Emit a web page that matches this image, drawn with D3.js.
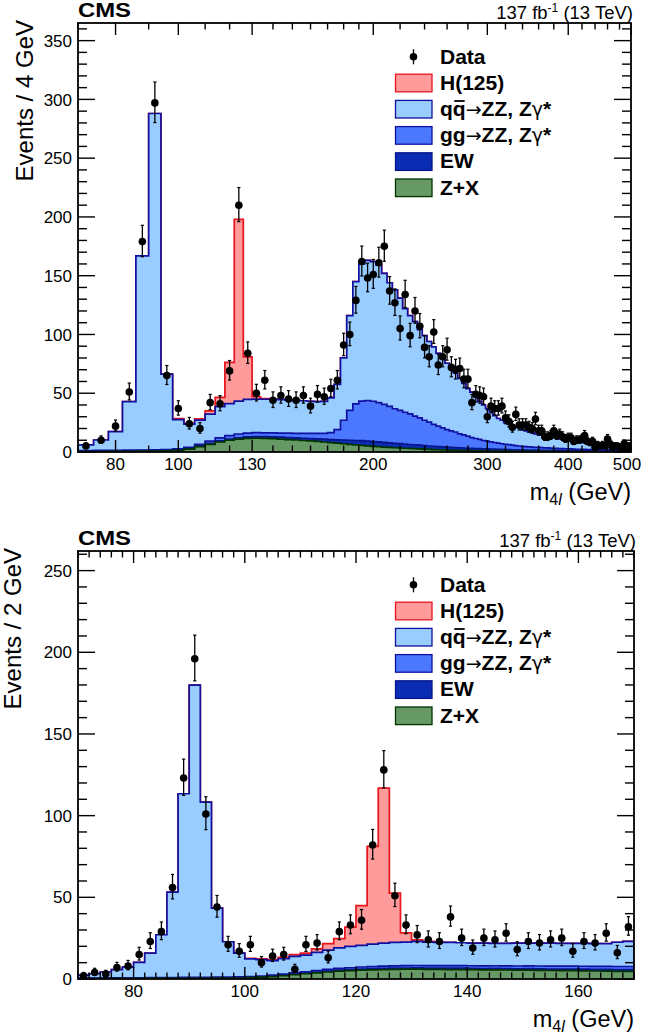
<!DOCTYPE html>
<html><head><meta charset="utf-8">
<script src="https://cdn.jsdelivr.net/npm/d3@7"></script>
<style>
body{margin:0;background:#fff}
text{font-family:"Liberation Sans",Arial,Helvetica,sans-serif}
</style></head>
<body><svg id="c" width="646" height="1035"></svg>
<script>
// ---------------- DATA ----------------
// Top panel: 4 GeV bins starting at 70 GeV (log x axis 70-500)
const topLowEdge = 70, topBinWidth = 4;
const topData = [5,10,22,51,179,297,65,37,24,20,
 42,41,69,210,84,50,61,44,48,45,
 44,48,39,49,47,54,61,91,100,129,
 162,148,151,161,175,137,127,105,134,99,
 120,107,89,81,102,74,81,87,72,70,
 71,62,62,42,49,48,47,30,39,37,
 37,39,29,26,21,32,23,23,23,21,
 20,28,18,18,13,13,14,18,14,15,
 13,11,12,12,9,10,10,11,14,9,
 8,9,4,6,5,6,5,11,7,4,
 5,5,4,3,7,3,5,2];
const topZX = [.3,.4,.5,.6,.7,.8,1.0,1.3,2.5,4.5,6.5,8.5,10,11,11.6,11.8,
 11.6,11.3,11,10.6,10.2,9.8,9.4,9,8.5,8,7.5,7,6.5,6,5.6,
 5.2,4.8,4.5,4.2,3.9,3.6,3.4,3.2,3,2.8,2.6,2.4,2.2,2,1.9,
 1.8,1.7,1.6,1.5,1.4,1.3,1.2,1.1,1,1,.9,.9,.8,.8,.8,
 .7,.7,.7,.6,.6,.6,.6,.5,.5,.5,
 .5,.5,.5,.45,.45,.45,.4,.4,.4,.4,.35,.35,.35,.35,.3,.3,.3,.3,.3,.25,.25,.25,.25,.25,.2,.2,.2,.2,.2,.2,.15,.15,.15,.15,.15,.15,.15];
const topEW = [.3,.3,.3,.4,.4,.5,.5,.5,
 .6,.7,.8,.9,1.0,1.1,1.2,1.3,
 1.4,1.5,1.6,1.7,1.8,1.9,2.0,2.2,2.4,2.6,
 2.9,3.2,3.5,3.8,4.0,4.1,4.1,4.1,4.0,3.9,
 3.8,3.7,3.6,3.4,3.3,3.2,3.0,2.9,2.8,2.7,
 2.6,2.5,2.4,2.3,2.2,2.1,2.0,1.9,1.8,1.8,
 1.7,1.7,1.6,1.6,1.5,1.5,1.4,1.4,1.3,1.3,1.3,1.2,1.2,1.2,1.1,
 1.1,1.1,1.0,1.0,1.0,1.0,.95,.95,.9,.9,.9,.85,.85,.85,.8,.8,.8,.8,.75,.75,.75,.7,.7,.7,.7,.65,.65,.65,.65,.6,.6,.6,.6,.6,.55,.55,.55];
const topGG = [.6,.6,.6,.6,.6,.6,.6,.8,.9,1.3,2.0,2.6,3.0,3.2,3.3,3.4,
 3.3,3.4,3.5,3.7,3.9,4.1,4.4,4.6,5.0,
 5.9,8.6,16.8,25.5,31.2,33.7,34.5,34.3,33.4,32.3,31,29.4,28.4,27,26.1,24.4,23.2,21.6,20.4,18.7,17.4,
 16.1,14.8,14,13.2,11.9,11.1,10.3,9.3,8.7,8,7.2,6.6,6.2,5.7,5.2,
 4.8,4.5,4.1,3.9,3.5,3.2,3.0,2.8,2.6,2.5,
 2.4,2.3,2.2,2.1,2.0,1.9,1.8,1.7,1.6,1.55,1.5,1.45,1.4,1.3,1.25,1.2,1.15,1.1,1.05,1.0,.95,.9,.9,.85,.8,.8,.75,.7,.7,.65,.6,.6,.55,.55,.5,.5,.45];
const topQQ = [4.8,8.9,15.9,41.2,165.2,286.1,64.2,24.9,19.7,20.6,23,26.5,27.2,28,28.7,28.5,
 28.6,28.7,28.5,28.3,28.1,27.8,27.4,27.1,27.1,29.5,38.5,53,80.5,104,116.7,
 119.2,118.8,117,111.5,105.2,101.2,95.5,88.2,83.5,80.5,75,72,68.5,66,62,
 58.5,56.5,53,50,47.1,43.9,40.5,38.7,35.5,32.2,30.2,27.8,25.7,22.9,21,
 20,18.4,17.8,16.7,16.1,15.4,14.2,13.5,12.9,12.2,
 11.5,11.1,10.6,10.2,9.8,9.4,9.1,8.6,8.2,7.9,7.6,7.2,6.8,6.5,6.4,6.1,5.9,5.6,5.4,5.2,5.1,4.9,4.7,4.5,4.4,4.3,4.1,4,3.8,3.8,3.7,3.6,3.4,3.3,3.3,3.1,3.1];
const topH = [0,0,0,0,0,0,0,1.0,0.7,1.2,2.7,8,35,154.7,36.2,2,0.6,0.3,0.2,0.1,0.1,
 0,0,0,0,0,0,0,0,0,0,0,0,0,0,0,0,0,0,0,0,0,0,0,0,0,0,0,0,0,0,0,0,0,0,0,0,0,0,0,0,
 0,0,0,0,0,0,0,0,0,0,0,0,0,0,0,0,0,0,0,0,0,0,0,0,0,0,0,0,0,0,0,0,0,0,0,0,0,0,0,0,0,0,0,0,0,0,0];
const topXLabels = [80,100,130,200,300,400,500];
const topYMax = 365;

// Bottom panel: 2 GeV bins from 70 to 170 GeV
const botLowEdge = 70, botBinWidth = 2;
const botData = [2,4,3,7,8,15,23,29,56,123,
 196,101,44,21,17,21,10,14,15,6,
 21,22,13,29,33,36,82,128,51,33,
 27,24,23,38,25,19,25,24,28,18,
 23,22,24,25,17,23,22,28,16,32];
const botZX = [.2,.2,.25,.25,.3,.3,.35,.35,.4,.4,.45,.45,.5,.5,.6,.8,
 1.1,1.5,2.0,2.6,3.2,3.8,4.3,4.8,5.1,5.4,5.6,5.8,5.9,6.0,6.0,
 5.9,5.9,5.8,5.8,5.7,5.6,5.6,5.5,5.4,5.4,5.3,5.2,5.1,5.1,5.0,4.9,4.8,4.7,4.7];
const botEW = [.15,.15,.15,.15,.15,.15,.15,.15,.15,.15,.2,.2,.2,.2,.2,.2,
 .25,.3,.35,.4,.45,.5,.55,.6,.6,.65,
 .65,.7,.7,.7,.75,.75,.75,.8,.8,.8,
 .8,.85,.85,.85,.9,.9,.9,.95,.95,1.0,
 1.0,1.05,1.05,1.05];
const botGG = [.25,.25,.25,.3,.3,.3,.35,.35,.35,.4,.4,.4,.4,.4,.45,.45,
 .5,.55,.6,.7,.8,.9,1.0,1.1,1.2,1.3,
 1.35,1.4,1.45,1.5,1.5,1.55,1.55,1.6,1.6,1.6,
 1.65,1.65,1.7,1.7,1.7,1.75,1.75,1.8,1.8,1.8,
 1.85,1.85,1.9,1.9];
const botQQ = [1.8,2.6,3.65,5.0,6.55,9.45,15.05,26.25,52.3,112.45,
 178.85,107.25,42.3,21.7,14.65,10.85,10.05,8.85,9.45,10.2,
 10.15,11.1,11.85,12.5,13.1,13.25,13.8,14.1,14.35,14.4,
 14.75,14.4,14.2,14.2,14.0,13.9,13.85,13.7,13.75,13.95,
 14.0,14.05,14.05,13.95,13.95,14.0,13.95,13.9,14.85,15.35];
const botH = [0,0,0,0,0,0,0,0,0,0,0,0,0,0,0,0.3,
 0.5,0.6,0.8,1.0,1.3,2.1,3.9,5.7,11.8,24.3,59.8,94.9,30.2,5.6,1.0,0.4,0.2,
 0,0,0,0,0,0,0,0,0,0,0,0,0,0,0,0,0];
const botXLabels = [80,100,120,140,160];
const botYMax = 262;

const legendLabels = ["Data","H(125)","qq→ZZ, Zγ*","gg→ZZ, Zγ*","EW","Z+X"];
const keys = ["zx","ew","gg","qq","h"];
const style = {
  h:  {fill:"#ff9b9b", line:"#e8141e"},
  qq: {fill:"#99ccff", line:"#1010a0"},
  gg: {fill:"#4b78ff", line:"#1010a0"},
  ew: {fill:"#0a2db4", line:"#08148c"},
  zx: {fill:"#669966", line:"#003300"}
};

const svg = d3.select("#c");

function drawPanel(cfg){
  const {top, bottom, left, right} = cfg;
  const x = cfg.x, y = d3.scaleLinear().domain([0, cfg.yMax]).range([bottom, top]);
  const g = svg.append("g");
  const clipId = "clip" + cfg.id;
  svg.append("clipPath").attr("id", clipId).append("rect")
    .attr("x", left).attr("y", top).attr("width", right-left).attr("height", bottom-top);

  const n = cfg.data.length;
  const rows = d3.range(n).map(i => ({
    x0: cfg.low + i*cfg.w, x1: cfg.low + (i+1)*cfg.w,
    zx: cfg.zx[i], ew: cfg.ew[i], gg: cfg.gg[i], qq: cfg.qq[i], h: cfg.h[i]
  }));
  const stack = d3.stack().keys(keys)(rows);
  const plot = g.append("g").attr("clip-path", `url(#${clipId})`);

  const area = d3.area().curve(d3.curveStepAfter)
      .x(p => x(p.x)).y0(y(0)).y1(p => y(p.t));
  const line = d3.line().curve(d3.curveStepAfter)
      .x(p => x(p.x)).y(p => y(p.t));
  for (let k = keys.length-1; k >= 0; k--) {
    const s = stack[k];
    const pts = s.map((d,i) => ({x: rows[i].x0, t: d[1]}));
    pts.push({x: rows[n-1].x1, t: s[n-1][1]});
    const outline = [{x: rows[0].x0, t: 0}].concat(pts, [{x: rows[n-1].x1, t: 0}]);
    plot.append("path").attr("d", area(pts)).attr("fill", style[keys[k]].fill);
    plot.append("path").attr("d", line(outline)).attr("fill", "none")
      .attr("stroke", style[keys[k]].line).attr("stroke-width", 1.7);
  }

  const dg = plot.append("g");
  cfg.data.forEach((v,i) => {
    if (v <= 0) return;
    const cx = x((rows[i].x0 + rows[i].x1)/2);
    const r = Math.sqrt(v + 0.25);
    const yUp = y(v + r + 0.5), yLo = y(v - r + 0.5);
    dg.append("line").attr("x1", cx).attr("x2", cx).attr("y1", yUp).attr("y2", yLo)
      .attr("stroke", "#000").attr("stroke-width", 1.3);
    [yUp, yLo].forEach(yy => dg.append("line").attr("x1", cx-1.6).attr("x2", cx+1.6)
      .attr("y1", yy).attr("y2", yy).attr("stroke", "#000").attr("stroke-width", 1.2));
    dg.append("circle").attr("cx", cx).attr("cy", y(v)).attr("r", 3.8).attr("fill", "#000");
  });

  g.append("rect").attr("x", left).attr("y", top).attr("width", right-left).attr("height", bottom-top)
    .attr("fill", "none").attr("stroke", "#000").attr("stroke-width", 1.8);

  const yt = g.append("g");
  d3.range(0, cfg.yMax + 0.01, 10).forEach(v => {
    const major = v % 50 === 0;
    const L = major ? 17 : 9;
    yt.append("line").attr("x1", left).attr("x2", left+L).attr("y1", y(v)).attr("y2", y(v))
      .attr("stroke", "#000").attr("stroke-width", 1.4);
    yt.append("line").attr("x1", right).attr("x2", right-L).attr("y1", y(v)).attr("y2", y(v))
      .attr("stroke", "#000").attr("stroke-width", 1.4);
    if (major) yt.append("text").attr("x", left-6).attr("y", y(v)).attr("dy", "0.36em")
      .attr("text-anchor", "end").attr("font-size", 17).text(v);
  });

  const xt = g.append("g");
  cfg.xTicks.forEach(t => {
    const L = t.major ? 12 : 6.5;
    const px = x(t.v);
    xt.append("line").attr("x1", px).attr("x2", px).attr("y1", bottom).attr("y2", bottom-L)
      .attr("stroke", "#000").attr("stroke-width", 1.4);
    xt.append("line").attr("x1", px).attr("x2", px).attr("y1", top).attr("y2", top+L)
      .attr("stroke", "#000").attr("stroke-width", 1.4);
  });
  cfg.xLabels.forEach(v => {
    xt.append("text").attr("x", x(v) - (v === 500 ? 4 : 0)).attr("y", bottom + 17.5)
      .attr("text-anchor", "middle").attr("font-size", 17).text(v);
  });

  g.append("text").attr("x", left).attr("y", top - 6).attr("font-size", 20)
    .attr("font-weight", "bold").attr("textLength", 53).attr("lengthAdjust", "spacingAndGlyphs").text("CMS");
  const lumi = g.append("text").attr("x", right+2).attr("y", top - 4).attr("text-anchor", "end")
    .attr("font-size", 18.5);
  lumi.append("tspan").text("137 fb");
  lumi.append("tspan").attr("dy", -7).attr("font-size", 12).text("-1");
  lumi.append("tspan").attr("dy", 7).text(" (13 TeV)");

  g.append("text").attr("transform", `translate(${cfg.yTitleX},${top-3}) rotate(-90)`)
    .attr("text-anchor", "end").attr("font-size", 24).text(cfg.yTitle);

  const xtitle = g.append("text").attr("x", right).attr("y", bottom + 48)
    .attr("text-anchor", "end").attr("font-size", 23.5);
  xtitle.append("tspan").text("m");
  xtitle.append("tspan").attr("dy", 5).attr("font-size", 16).text("4");
  xtitle.append("tspan").attr("font-size", 16).attr("font-style", "italic").text("l");
  xtitle.append("tspan").attr("dy", -5).text(" (GeV)");

  const lg = g.append("g");
  const lx = 395.5, row0 = top + 33.8, dy = 26.2;
  lg.append("line").attr("x1", 413.5).attr("x2", 413.5).attr("y1", row0-7.5).attr("y2", row0+7.5)
    .attr("stroke", "#000").attr("stroke-width", 1.3);
  lg.append("circle").attr("cx", 413.5).attr("cy", row0).attr("r", 3.8).attr("fill", "#000");
  const lkeys = ["h","qq","gg","ew","zx"];
  legendLabels.forEach((lab, i) => {
    const cy = row0 + i*dy;
    if (i > 0) {
      const st = style[lkeys[i-1]];
      lg.append("rect").attr("x", lx).attr("y", cy-8.8).attr("width", 36.5).attr("height", 17.6)
        .attr("fill", st.fill).attr("stroke", st.line).attr("stroke-width", 1.3);
    }
    const t = lg.append("text").attr("x", 440).attr("y", cy + 6.8).attr("font-size", 21)
      .attr("font-weight", "bold");
    if (lab.includes("→")) {
      const parts = lab.split("→");
      t.append("tspan").text(parts[0]);
      t.append("tspan").attr("font-weight", "normal").attr("font-family", "DejaVu Sans")
        .attr("font-size", 19).text("→");
      const rest = parts[1].split("γ");
      t.append("tspan").text(rest[0]);
      t.append("tspan").attr("font-weight", "normal").attr("font-family", "DejaVu Sans")
        .attr("font-size", 19).text("γ");
      t.append("tspan").text(rest[1]);
      if (parts[0] === "qq") {
        const ext = t.node().getExtentOfChar(1);
        lg.append("line").attr("x1", ext.x + 1.5).attr("x2", ext.x + ext.width - 1)
          .attr("y1", cy - 8.2).attr("y2", cy - 8.2).attr("stroke", "#000").attr("stroke-width", 1.8);
      }
    } else {
      t.text(lab);
    }
  });
}

// ---------- top panel ----------
const topX = d3.scaleLog().domain([70, 500]).range([78, 631]);
const topTicks = d3.range(70, 200, 10).map(v => ({v, major: topXLabels.includes(v)}))
  .concat(d3.range(200, 501, 20).map(v => ({v, major: topXLabels.includes(v)})));
drawPanel({id: "t", top: 23, bottom: 452, left: 78, right: 631, x: topX, yMax: topYMax,
  low: topLowEdge, w: topBinWidth, data: topData, zx: topZX, ew: topEW, gg: topGG, qq: topQQ, h: topH,
  xTicks: topTicks, xLabels: topXLabels, yTitle: "Events / 4 GeV", yTitleX: 33});

// ---------- bottom panel ----------
const botX = d3.scaleLinear().domain([70, 170]).range([78, 634]);
const botTicks = d3.range(70, 170.1, 2).map(v => ({v, major: v % 20 === 0}));
drawPanel({id: "b", top: 551, bottom: 979, left: 78, right: 634, x: botX, yMax: botYMax,
  low: botLowEdge, w: botBinWidth, data: botData, zx: botZX, ew: botEW, gg: botGG, qq: botQQ, h: botH,
  xTicks: botTicks, xLabels: botXLabels, yTitle: "Events / 2 GeV", yTitleX: 21});
</script></body></html>
